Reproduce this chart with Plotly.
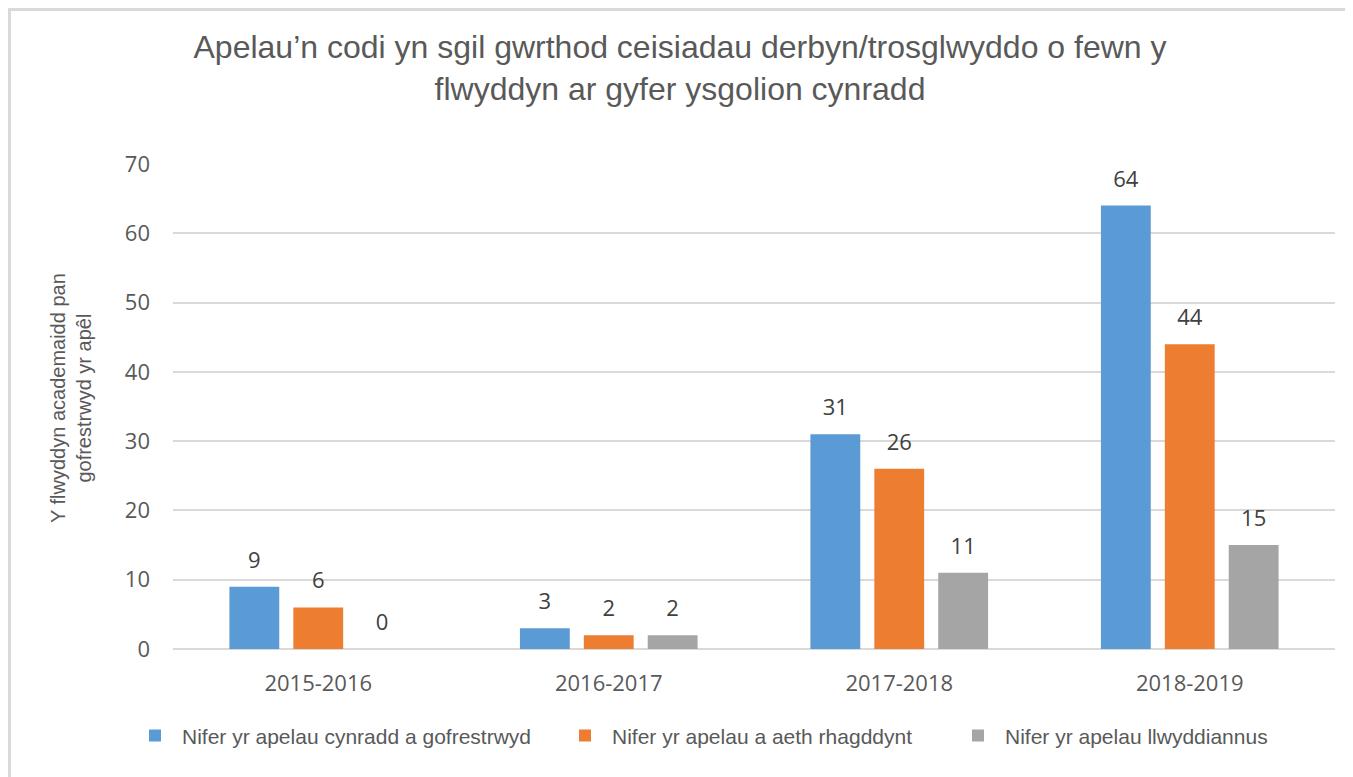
import plotly.graph_objects as go

years = ["2015-2016", "2016-2017", "2017-2018", "2018-2019"]
registered = [9, 3, 31, 64]
proceeded = [6, 2, 26, 44]
successful = [0, 2, 11, 15]

series_names = [
    "Nifer yr apelau cynradd a gofrestrwyd",
    "Nifer yr apelau a aeth rhagddynt",
    "Nifer yr apelau llwyddiannus",
]
colors = ["#5b9bd5", "#ed7d31", "#a5a5a5"]

title_text = ("Apelau’n codi yn sgil gwrthod ceisiadau derbyn/trosglwyddo o fewn y"
              "<br>flwyddyn ar gyfer ysgolion cynradd")
y_title = "Y flwyddyn academaidd pan<br>gofrestrwyd yr apêl"

# page has an 8px body margin, so the figure is drawn 8px smaller
W, H = 1345, 769
L, R, T, B = 165, 18, 156, 128
plot_w, plot_h = W - L - R, H - T - B

label_font = dict(family="Open Sans", size=22, color="#404040")
legend_px = [120, 550, 943]
GAP = 0.34

fig = go.Figure()
for i, (name, vals) in enumerate(zip(series_names, [registered, proceeded, successful])):
    fig.add_trace(go.Bar(
        x=years, y=vals, name=name, offsetgroup=str(i),
        marker=dict(color=colors[i], line=dict(width=0)),
        legend="legend" if i == 0 else f"legend{i + 1}",
    ))
    # value labels, lifted off the bar tops by an invisible marker
    fig.add_trace(go.Scatter(
        x=years, y=vals, mode="markers+text", text=[str(v) for v in vals],
        textposition="top center", textfont=label_font,
        marker=dict(size=20, opacity=0), offsetgroup=str(i),
        showlegend=False, hoverinfo="skip", cliponaxis=False,
    ))

legend_common = dict(
    orientation="h", yanchor="middle", y=-0.179, xanchor="left",
    font=dict(family="Liberation Sans", size=21, color="#595959"),
    bgcolor="rgba(0,0,0,0)", itemwidth=44,
)

fig.update_layout(
    width=W, height=H,
    margin=dict(l=L, r=R, t=T, b=B),
    paper_bgcolor="white", plot_bgcolor="white",
    barmode="group", bargap=GAP, bargroupgap=0.22,
    scattermode="group", scattergap=GAP,
    title=dict(text=title_text, x=672 / W, xref="container", xanchor="center",
               y=1 - 50 / H, yref="container", yanchor="middle",
               font=dict(family="Liberation Sans", size=32, color="#595959")),
    xaxis=dict(showgrid=False, showline=False, ticks="", ticklabelstandoff=19,
               tickfont=dict(family="Open Sans", size=22, color="#595959")),
    yaxis=dict(range=[0, 70], dtick=10, showgrid=True, gridcolor="#d9d9d9",
               gridwidth=1.5, zeroline=True, zerolinecolor="#d9d9d9",
               zerolinewidth=1.5, ticks="", ticklabelstandoff=22,
               tickfont=dict(family="Open Sans", size=22, color="#595959")),
    legend=dict(x=(legend_px[0] - L) / plot_w, **legend_common),
    legend2=dict(x=(legend_px[1] - L) / plot_w, **legend_common),
    legend3=dict(x=(legend_px[2] - L) / plot_w, **legend_common),
    showlegend=True,
)

fig.add_annotation(
    text=y_title, textangle=-90, xref="paper", yref="paper",
    x=(63 - L) / plot_w, y=0.5175, xanchor="center", yanchor="middle",
    showarrow=False,
    font=dict(family="Liberation Sans", size=20, color="#595959"),
)

# light grey frame round the chart area, as in the original export
fig.add_shape(type="rect", xref="paper", yref="paper",
              x0=(1.5 - L) / plot_w, x1=1.2, y0=-0.5,
              y1=1 + (T - 1.5) / plot_h,
              line=dict(color="#d9d9d9", width=3), layer="below")

fig.write_html("out.html")
